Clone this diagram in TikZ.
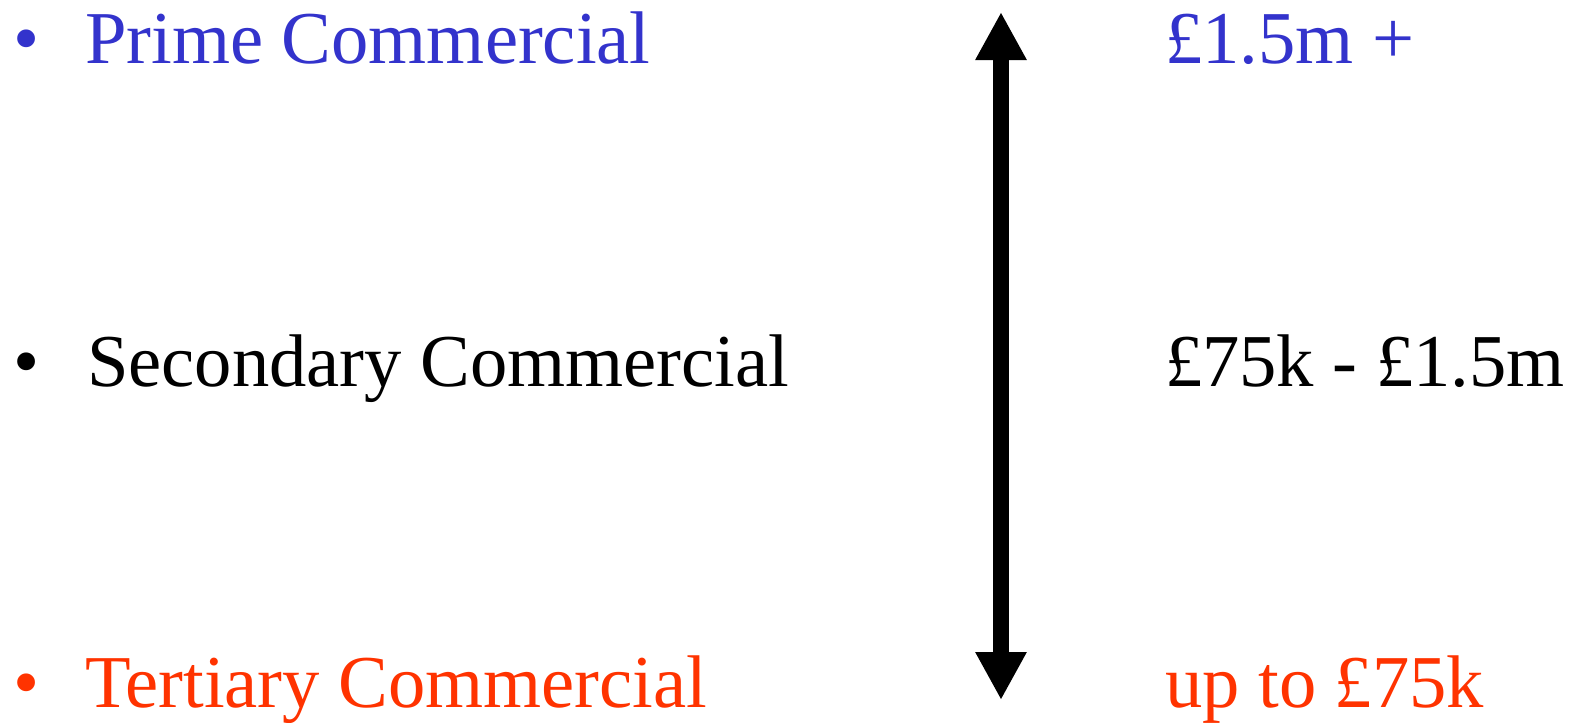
\documentclass[tikz,border=0pt]{standalone}
\usepackage{fontspec}
\setmainfont{Liberation Serif}
\usetikzlibrary{arrows.meta}
\definecolor{primeblue}{HTML}{3333CC}
\definecolor{tertred}{HTML}{FF3300}
\tikzset{
  lbl/.style={anchor=base west, inner sep=0pt, outer sep=0pt, font=\fontsize{74.6}{89}\selectfont},
  bul/.style={lbl},
  bigarrow/.style={line width=16pt, {Triangle[width=48pt,length=48pt]}-{Triangle[width=48pt,length=48pt]}}
}
\begin{document}
\begin{tikzpicture}[x=1pt,y=1pt]
\useasboundingbox (0,0) rectangle (1575,-723);
% left column
\node[bul, text=primeblue] (b1) at (13,-63) {•};
\node[lbl, text=primeblue] (prime) at (85,-63) {Prime Commercial};
\node[bul] (b2) at (13,-386) {•};
\node[lbl] (second) at (87,-386) {Secondary Commercial};
\node[bul, text=tertred] (b3) at (13,-707) {•};
\node[lbl, text=tertred] (tert) at (85,-707) {Tertiary Commercial};
% right column
\node[lbl, text=primeblue] (p1) at (1165,-63) {£1.5m +};
\node[lbl] (p2) at (1165,-386) {£75k - £1.5m};
\node[lbl, text=tertred] (p3) at (1165,-707) {up to £75k};
% arrow
\coordinate (atop) at (1001,-12);
\coordinate (abot) at (1001,-700);
\draw[bigarrow] (atop) -- (abot);
\end{tikzpicture}
\end{document}
